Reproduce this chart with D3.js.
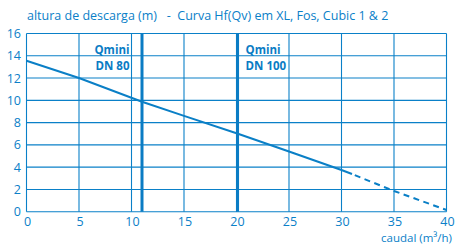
<!DOCTYPE html>
<html><head><meta charset="utf-8">
<script src="https://cdn.jsdelivr.net/npm/d3@7"></script>
<style>body{margin:0;background:#fff}svg{display:block}text{font-family:"Open Sans",sans-serif}</style>
</head><body>
<svg id="c" width="455" height="244"></svg>
<script>
const xTicks = [0,5,10,15,20,25,30,35,40];
const yTicks = [0,2,4,6,8,10,12,14,16];
const curveSolid = [[0,13.55],[5,12.0],[11,9.87],[15,8.6],[20,7.04],[25,5.4],[30,3.74],[31,3.38]];
const curveDashed = [[31,3.38],[35,1.86],[40,0.15]];
const qminX = [11,20.1];
const qminLabels = [["Qmini","DN 80"],["Qmini","DN 100"]];
const title = "altura de descarga (m)   -  Curva Hf(Qv) em XL, Fos, Cubic 1 & 2";
const xLabel = "caudal (m³/h)";

const col = "#0a80c8";
const svg = d3.select("#c");
const x = d3.scaleLinear().domain([0,40]).range([26.5,446.5]);
const y = d3.scaleLinear().domain([0,16]).range([211.7,33.5]);

const g = svg.append("g");
g.selectAll(".vg").data(xTicks).join("line")
  .attr("x1",d=>x(d)).attr("x2",d=>x(d)).attr("y1",y(0)).attr("y2",y(16))
  .attr("stroke",col).attr("stroke-width",1.1);
g.selectAll(".hg").data(yTicks).join("line")
  .attr("y1",d=>y(d)).attr("y2",d=>y(d)).attr("x1",x(0)).attr("x2",x(40))
  .attr("stroke",col).attr("stroke-width",1.1);

g.selectAll(".q").data(qminX).join("line")
  .attr("x1",d=>x(d)).attr("x2",d=>x(d)).attr("y1",y(0)).attr("y2",y(16))
  .attr("stroke","#0a7cc4").attr("stroke-width",3);

const line = d3.line().x(d=>x(d[0])).y(d=>y(d[1]));
g.append("path").attr("d",line(curveSolid)).attr("fill","none").attr("stroke","#0a7fc6").attr("stroke-width",2);
g.append("path").attr("d",line(curveDashed)).attr("fill","none").attr("stroke","#0a7fc6").attr("stroke-width",2).attr("stroke-dasharray","6,4.5").attr("stroke-dashoffset",-3);

g.selectAll(".yl").data(yTicks).join("text")
  .attr("x",21).attr("y",d=>y(d)).attr("dy","0.36em").attr("text-anchor","end")
  .attr("font-size",12.5).attr("fill",col).text(d=>d);
g.selectAll(".xl").data(xTicks).join("text")
  .attr("x",d=>x(d)+1).attr("y",221.5).attr("dy","0.36em").attr("text-anchor","middle")
  .attr("font-size",12.5).attr("fill",col).text(d=>d);

svg.append("text").attr("x",27).attr("y",20).attr("font-size",12.5).attr("fill",col)
  .style("white-space","pre").text(title);
svg.append("text").attr("x",452).attr("y",242).attr("text-anchor","end").attr("font-size",11.5).attr("fill",col).text(xLabel);

const anchors = ["end","start"];
const offs = [-12.5, 8];
qminLabels.forEach((lab,i)=>{
  lab.forEach((t,j)=>{
    svg.append("text").attr("x",x(qminX[i])+offs[i]).attr("y",y(14)+(j===0?-2:14))
      .attr("text-anchor",anchors[i]).attr("font-size",11.5).attr("font-weight","bold")
      .attr("fill","#0a7cc4").text(t);
  });
});
</script>
</body></html>
